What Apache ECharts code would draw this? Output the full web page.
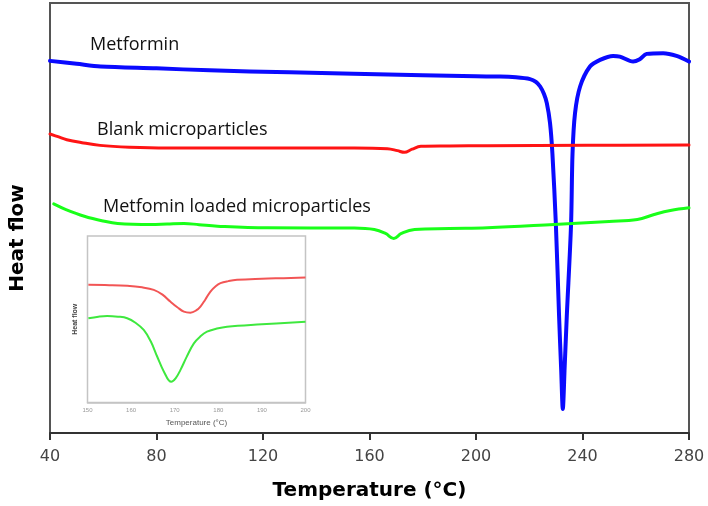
<!DOCTYPE html>
<html>
<head>
<meta charset="utf-8">
<script src="https://cdn.jsdelivr.net/npm/echarts@6/dist/echarts.min.js"></script>
<style>html,body{margin:0;padding:0;background:#fff}#c{width:708px;height:506px}</style>
</head>
<body>
<div id="c"></div>
<script>
// ---- Main DSC curves (temperature °C, heat flow arbitrary units) ----
const metforminT  = [40, 50, 59, 80, 100, 130, 154, 180, 200, 209, 215, 220.3, 222.5, 224.1, 225.5, 226.6, 227.8, 228.7, 230.0, 231.2, 232.0, 232.6, 233.3, 234.1, 235.7, 236.25, 237.2, 239.1, 242.8, 246.6, 251.5, 254, 259, 261.5, 264.1, 270.3, 275.3, 280];
const metforminHF = [373, 370, 367.3, 365.5, 363.5, 361.5, 360, 358.5, 357.5, 357.3, 356.5, 354.7, 352, 347.3, 340, 330.7, 310.7, 280, 209, 117.3, 63, 24, 66, 117.3, 209, 280, 320.7, 347.3, 367.3, 374, 378, 377.3, 372.3, 374.7, 380, 380.7, 378, 372.3];
const blankT  = [40, 43, 46.3, 52, 58.8, 70, 84, 120, 154.3, 166.7, 170.5, 173.1, 176, 179.3, 190, 204.3, 241.8, 280];
const blankHF = [299.7, 297, 294, 291, 288.3, 286.5, 285.7, 285.7, 285.7, 285, 283, 281.3, 284.5, 287.3, 287.7, 288, 288.3, 288.7];
const loadedT  = [41.4, 46, 52.9, 60, 65.4, 77.9, 84, 90.3, 96, 102.9, 121.6, 154.3, 161.8, 166, 169.1, 172, 176.9, 190, 204.3, 229.3, 250, 260.6, 266.9, 273, 280];
const loadedHF = [229.7, 224, 217.3, 212.5, 210, 209, 209.5, 210, 208.8, 207.3, 205.7, 205.5, 204, 200, 195, 200, 204, 205, 205.7, 209, 212, 214, 219, 223, 225.7];
const strayT = [275.2];
const strayHF = [240.7];

// ---- Inset (150–200 °C zoom) ----
const insetBlankT  = [150.2, 155, 159.1, 162.5, 165.2, 167.2, 169.0, 170.6, 172.1, 173.6, 175.0, 175.9, 177.0, 178.2, 179.4, 180.5, 182.3, 184.3, 190, 195, 200];
const insetBlankHF = [117.3, 117.0, 116.3, 114.8, 112.3, 107.5, 100.6, 95.0, 90.6, 89.6, 92.0, 95.6, 102.5, 110.6, 116.0, 119.0, 121.0, 122.3, 123.4, 124.0, 124.6];
const insetLoadedT  = [150.2, 152.5, 154.5, 157, 159.1, 161, 162.9, 164.5, 166.0, 167.5, 169.2, 170.2, 171.3, 172.8, 174.4, 175.9, 177.4, 179.5, 182, 190, 200];
const insetLoadedHF = [84, 85.6, 86.3, 85.6, 84, 79.5, 72.3, 61, 45.6, 31, 20.6, 24, 32.3, 46, 59, 66, 70.6, 73.5, 75.6, 78, 80.6];

// ---- Axis ticks ----
const mainXMin = 40, mainXMax = 280, mainXStep = 40;
const insetXMin = 150, insetXMax = 200, insetXStep = 10;

// ---- Curve labels ----
const curveLabels = ['Metformin', 'Blank microparticles', 'Metfomin loaded microparticles'];

const zip = (a, b) => a.map((v, i) => [v, b[i]]);

const chart = echarts.init(document.getElementById('c'), null, {renderer: 'canvas'});
const lblFont = '"Open Sans", "Noto Sans", sans-serif';
chart.setOption({
  animation: false,
  backgroundColor: '#fff',
  grid: [
    {left: 49, top: 3, right: 19, bottom: 72, show: true, borderColor: '#555', borderWidth: 2, backgroundColor: 'transparent'},
    {left: 87.5, top: 236, right: 402.5, bottom: 103.5, show: true, borderColor: '#c4c4c4', borderWidth: 1.5, backgroundColor: '#fff', z: 5}
  ],
  xAxis: [
    {
      type: 'value', gridIndex: 0, min: mainXMin, max: mainXMax, interval: mainXStep,
      name: 'Temperature (°C)', nameLocation: 'middle', nameGap: 48,
      nameTextStyle: {fontFamily: 'DejaVu Sans', fontWeight: 'bold', fontSize: 20, color: '#000'},
      axisLine: {show: true, onZero: false, lineStyle: {color: '#333', width: 2}},
      axisTick: {show: true, inside: false, length: 7, lineStyle: {color: '#333', width: 2}},
      axisLabel: {fontFamily: 'DejaVu Sans', fontSize: 16, color: '#444', margin: 16},
      splitLine: {show: false}
    },
    {
      type: 'value', gridIndex: 1, min: insetXMin, max: insetXMax, interval: insetXStep,
      name: 'Temperature (°C)', nameLocation: 'middle', nameGap: 16,
      nameTextStyle: {fontFamily: 'Liberation Sans', fontSize: 8, color: '#555'},
      axisLine: {show: true, onZero: false, lineStyle: {color: '#c4c4c4', width: 1.5}},
      axisTick: {show: false},
      axisLabel: {fontFamily: 'Liberation Sans', fontSize: 6, color: '#999', margin: 5},
      splitLine: {show: false}, z: 6
    }
  ],
  yAxis: [
    {
      type: 'value', gridIndex: 0, min: 0, max: 431,
      name: 'Heat flow', nameLocation: 'middle', nameGap: 22,
      nameTextStyle: {fontFamily: 'DejaVu Sans', fontWeight: 'bold', fontSize: 20, color: '#000', padding: [0, 40, 0, 0]},
      axisLine: {show: false}, axisTick: {show: false}, axisLabel: {show: false}, splitLine: {show: false}
    },
    {
      type: 'value', gridIndex: 1, min: 0, max: 166,
      name: 'Heat flow', nameLocation: 'middle', nameGap: 9,
      nameTextStyle: {fontFamily: 'Liberation Sans', fontWeight: 'bold', fontSize: 7, color: '#444'},
      axisLine: {show: false}, axisTick: {show: false}, axisLabel: {show: false}, splitLine: {show: false}, z: 6
    }
  ],
  series: [
    {type: 'line', xAxisIndex: 0, yAxisIndex: 0, data: zip(metforminT, metforminHF), showSymbol: false, smooth: 0.3,
      lineStyle: {color: '#0a0aff', width: 4, join: 'round', cap: 'round'}, z: 3},
    {type: 'line', xAxisIndex: 0, yAxisIndex: 0, data: zip(blankT, blankHF), showSymbol: false, smooth: 0.4,
      lineStyle: {color: '#ff1414', width: 3, join: 'round', cap: 'round'}, z: 3},
    {type: 'line', xAxisIndex: 0, yAxisIndex: 0, data: zip(loadedT, loadedHF), showSymbol: false, smooth: 0.4,
      lineStyle: {color: '#19ff19', width: 3, join: 'round', cap: 'round'}, z: 3},
    {type: 'scatter', xAxisIndex: 0, yAxisIndex: 0, data: zip(strayT, strayHF), symbol: 'emptyCircle', symbolSize: 5,
      itemStyle: {color: '#fff', borderColor: '#999', borderWidth: 1}, z: 3},
    {type: 'line', xAxisIndex: 1, yAxisIndex: 1, data: zip(insetBlankT, insetBlankHF), showSymbol: false, smooth: 0.4,
      lineStyle: {color: '#f25555', width: 2, join: 'round'}, z: 10},
    {type: 'line', xAxisIndex: 1, yAxisIndex: 1, data: zip(insetLoadedT, insetLoadedHF), showSymbol: false, smooth: 0.4,
      lineStyle: {color: '#3ee83e', width: 2, join: 'round'}, z: 10}
  ],
  graphic: [
    {type: 'text', left: 90, top: 36, style: {text: curveLabels[0], font: '18px ' + lblFont, fill: '#111'}},
    {type: 'text', left: 97, top: 121, style: {text: curveLabels[1], font: '18px ' + lblFont, fill: '#111'}},
    {type: 'text', left: 103, top: 198, style: {text: curveLabels[2], font: '18px ' + lblFont, fill: '#111'}}
  ]
});
</script>
</body>
</html>
